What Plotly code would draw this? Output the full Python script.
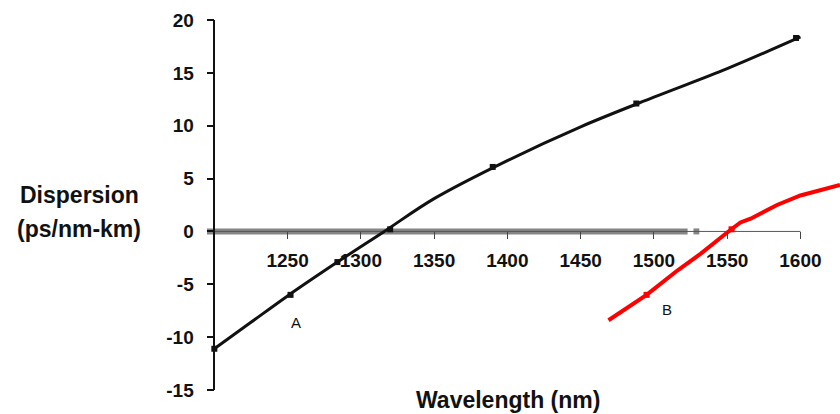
import plotly.graph_objects as go

# ---- data ----
wl_a = [1200, 1225, 1250, 1284, 1316, 1350, 1400, 1450, 1500, 1550, 1600]
disp_a = [-11.1, -8.6, -6.1, -2.9, 0.0, 3.1, 6.7, 9.9, 12.7, 15.4, 18.4]
wl_a_pts = [1200, 1252, 1284, 1320, 1390, 1488, 1597]
disp_a_pts = [-11.1, -6.0, -2.9, 0.2, 6.1, 12.1, 18.3]

wl_b = [1469, 1480, 1495, 1516, 1532, 1550, 1559, 1566, 1584, 1600, 1618, 1627]
disp_b = [-8.4, -7.4, -6.0, -3.7, -2.1, -0.1, 0.85, 1.2, 2.5, 3.4, 4.1, 4.4]
wl_b_pts = [1495, 1553]
disp_b_pts = [-6.0, 0.2]

zero_band_x = [1195, 1523]
zero_band_y = [0, 0]
zero_bit_x = [1527, 1531]
zero_bit_y = [0, 0]
axis_x = [1200, 1600]
axis_y = [0, 0]

x_ticks = [1250, 1300, 1350, 1400, 1450, 1500, 1550, 1600]
y_ticks = [-15, -10, -5, 0, 5, 10, 15, 20]

x_min, x_max = 1195, 1627
y_min, y_max = -15, 20

FONT = "Liberation Sans, Arial, sans-serif"
ML, MR, MT, MB = 207, 0, 20, 24

fig = go.Figure()
fig.add_trace(go.Scatter(x=zero_band_x, y=zero_band_y, mode="lines",
                         line=dict(color="#858585", width=6), hoverinfo="skip"))
fig.add_trace(go.Scatter(x=zero_bit_x, y=zero_bit_y, mode="lines",
                         line=dict(color="#858585", width=6), hoverinfo="skip"))
fig.add_trace(go.Scatter(x=axis_x, y=axis_y, mode="lines",
                         line=dict(color="#555555", width=1), hoverinfo="skip"))
fig.add_trace(go.Scatter(x=wl_a, y=disp_a, mode="lines", line=dict(color="#111111", width=3),
                         line_shape="spline", line_smoothing=1.0))
fig.add_trace(go.Scatter(x=wl_a_pts, y=disp_a_pts, mode="markers",
                         marker=dict(color="#111111", size=6, symbol="square"), cliponaxis=False))
fig.add_trace(go.Scatter(x=wl_b, y=disp_b, mode="lines", line=dict(color="#ff0000", width=4)))
fig.add_trace(go.Scatter(x=wl_b_pts, y=disp_b_pts, mode="markers",
                         marker=dict(color="#ff0000", size=6, symbol="square")))

fig.update_layout(
    width=840, height=414,
    margin=dict(l=ML, r=MR, t=MT, b=MB),
    paper_bgcolor="white", plot_bgcolor="white",
    showlegend=False,
    font=dict(family=FONT, color="#111111"),
    xaxis=dict(range=[x_min, x_max], anchor="free", position=(0 - y_min) / (y_max - y_min),
               showgrid=False, zeroline=False, showline=False,
               tickmode="array", tickvals=x_ticks, ticktext=[str(t) for t in x_ticks],
               ticks="outside", ticklen=7, tickwidth=1, tickcolor="#444444",
               ticklabelstandoff=5,
               tickfont=dict(family=FONT, size=19, color="#111111", weight="bold")),
    yaxis=dict(range=[y_min, y_max], anchor="free", position=(1200 - x_min) / (x_max - x_min),
               showgrid=False, zeroline=False, showline=True, linecolor="#111111", linewidth=1.5,
               tickmode="array", tickvals=y_ticks, ticktext=[str(t) for t in y_ticks],
               ticks="outside", ticklen=7, tickwidth=1.5, tickcolor="#111111",
               ticklabelstandoff=9,
               tickfont=dict(family=FONT, size=19, color="#111111", weight="bold")),
)

plot_w = 840 - ML - MR
plot_h = 414 - MT - MB


def px_to_paper(px, py):
    return (px - ML) / plot_w, 1 - (py - MT) / plot_h


for txt, px, py in [("Dispersion", 79, 195), ("(ps/nm-km)", 79, 229), ("Wavelength (nm)", 508, 400)]:
    xx, yy = px_to_paper(px, py)
    fig.add_annotation(text=txt, x=xx, y=yy, xref="paper", yref="paper", showarrow=False,
                       xanchor="center", yanchor="middle",
                       font=dict(family=FONT, size=23, color="#111111", weight="bold"))

fig.add_annotation(text="A", x=1256, y=-8.6, showarrow=False, xanchor="center", yanchor="middle",
                   font=dict(family=FONT, size=15, color="#111111"))
fig.add_annotation(text="B", x=1509, y=-7.4, showarrow=False, xanchor="center", yanchor="middle",
                   font=dict(family=FONT, size=15, color="#111111"))

fig.write_html("out.html")
